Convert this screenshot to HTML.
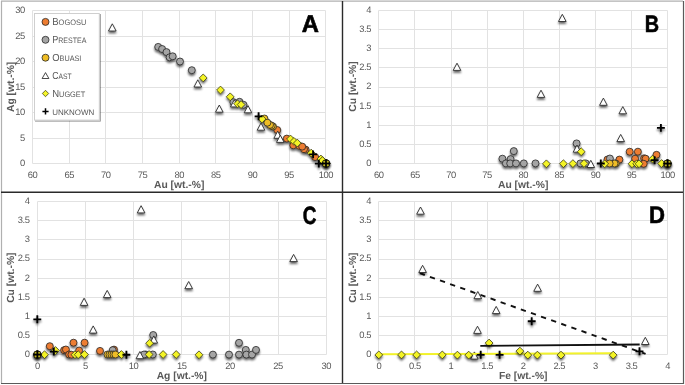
<!DOCTYPE html><html><head><meta charset="utf-8"><style>
html,body{margin:0;padding:0;background:#fff;}
svg{display:block;will-change:transform;}
text{font-family:"Liberation Sans",sans-serif;text-rendering:geometricPrecision;}
.t{font-size:9.4px;fill:#595959;letter-spacing:-0.45px;}
.ti{font-size:10.3px;font-weight:bold;fill:#595959;}
.L{font-size:24px;font-weight:bold;fill:#000;stroke:#000;stroke-width:0.6px;}
.lg{fill:#595959;}
</style></head><body>
<svg width="685" height="385" viewBox="0 0 685 385">
<defs>
<filter id="sh" x="-50%" y="-50%" width="200%" height="200%">
<feGaussianBlur in="SourceAlpha" stdDeviation="1.0"/>
<feOffset dx="0.3" dy="2.2" result="b"/>
<feComponentTransfer><feFuncA type="linear" slope="0.6"/></feComponentTransfer>
<feMerge><feMergeNode/><feMergeNode in="SourceGraphic"/></feMerge>
</filter>
<filter id="lsh" x="-20%" y="-20%" width="140%" height="140%">
<feGaussianBlur in="SourceAlpha" stdDeviation="0.6"/>
<feOffset dx="0.9" dy="0.9" result="b"/>
<feComponentTransfer><feFuncA type="linear" slope="0.4"/></feComponentTransfer>
<feMerge><feMergeNode/><feMergeNode in="SourceGraphic"/></feMerge>
</filter>
</defs>
<rect width="685" height="385" fill="#fff"/>

<path d="M32.5 10.5V163.5M69.5 10.5V163.5M105.5 10.5V163.5M142.5 10.5V163.5M179.5 10.5V163.5M215.5 10.5V163.5M252.5 10.5V163.5M289.5 10.5V163.5M325.5 10.5V163.5M32.5 163.5H325.5M32.5 138.5H325.5M32.5 112.5H325.5M32.5 87.5H325.5M32.5 61.5H325.5M32.5 36.5H325.5M32.5 10.5H325.5" stroke="#e2e2e2" stroke-width="1" fill="none"/>
<text x="32.5" y="178.1" class="t" text-anchor="middle">60</text>
<text x="69.2" y="178.1" class="t" text-anchor="middle">65</text>
<text x="105.8" y="178.1" class="t" text-anchor="middle">70</text>
<text x="142.5" y="178.1" class="t" text-anchor="middle">75</text>
<text x="179.2" y="178.1" class="t" text-anchor="middle">80</text>
<text x="215.8" y="178.1" class="t" text-anchor="middle">85</text>
<text x="252.5" y="178.1" class="t" text-anchor="middle">90</text>
<text x="289.1" y="178.1" class="t" text-anchor="middle">95</text>
<text x="325.8" y="178.1" class="t" text-anchor="middle">100</text>
<text x="24.7" y="166.3" class="t" text-anchor="end">0</text>
<text x="24.7" y="140.8" class="t" text-anchor="end">5</text>
<text x="24.7" y="115.3" class="t" text-anchor="end">10</text>
<text x="24.7" y="89.8" class="t" text-anchor="end">15</text>
<text x="24.7" y="64.3" class="t" text-anchor="end">20</text>
<text x="24.7" y="38.8" class="t" text-anchor="end">25</text>
<text x="24.7" y="13.3" class="t" text-anchor="end">30</text>
<text x="179.2" y="187.8" class="ti" text-anchor="middle">Au [wt.-%]</text>
<text transform="translate(14.0 86.9) rotate(-90)" class="ti" text-anchor="middle">Ag [wt.-%]</text>
<path d="M378.5 10.5V163.5M414.5 10.5V163.5M451.5 10.5V163.5M487.5 10.5V163.5M523.5 10.5V163.5M559.5 10.5V163.5M595.5 10.5V163.5M631.5 10.5V163.5M667.5 10.5V163.5M378.5 163.5H667.5M378.5 144.5H667.5M378.5 125.5H667.5M378.5 106.5H667.5M378.5 87.5H667.5M378.5 67.5H667.5M378.5 48.5H667.5M378.5 29.5H667.5M378.5 10.5H667.5" stroke="#e2e2e2" stroke-width="1" fill="none"/>
<text x="378.8" y="178.1" class="t" text-anchor="middle">60</text>
<text x="414.9" y="178.1" class="t" text-anchor="middle">65</text>
<text x="451.0" y="178.1" class="t" text-anchor="middle">70</text>
<text x="487.1" y="178.1" class="t" text-anchor="middle">75</text>
<text x="523.2" y="178.1" class="t" text-anchor="middle">80</text>
<text x="559.3" y="178.1" class="t" text-anchor="middle">85</text>
<text x="595.4" y="178.1" class="t" text-anchor="middle">90</text>
<text x="631.5" y="178.1" class="t" text-anchor="middle">95</text>
<text x="667.6" y="178.1" class="t" text-anchor="middle">100</text>
<text x="371.0" y="165.9" class="t" text-anchor="end">0</text>
<text x="371.0" y="146.8" class="t" text-anchor="end">0.5</text>
<text x="371.0" y="127.7" class="t" text-anchor="end">1</text>
<text x="371.0" y="108.5" class="t" text-anchor="end">1.5</text>
<text x="371.0" y="89.4" class="t" text-anchor="end">2</text>
<text x="371.0" y="70.3" class="t" text-anchor="end">2.5</text>
<text x="371.0" y="51.1" class="t" text-anchor="end">3</text>
<text x="371.0" y="32.0" class="t" text-anchor="end">3.5</text>
<text x="371.0" y="12.9" class="t" text-anchor="end">4</text>
<text x="523.2" y="187.8" class="ti" text-anchor="middle">Au [wt.-%]</text>
<text transform="translate(356.0 86.5) rotate(-90)" class="ti" text-anchor="middle">Cu [wt.-%]</text>
<path d="M37.5 201.5V354.5M85.5 201.5V354.5M133.5 201.5V354.5M181.5 201.5V354.5M229.5 201.5V354.5M278.5 201.5V354.5M326.5 201.5V354.5M37.5 354.5H326.5M37.5 335.5H326.5M37.5 316.5H326.5M37.5 297.5H326.5M37.5 278.5H326.5M37.5 259.5H326.5M37.5 239.5H326.5M37.5 220.5H326.5M37.5 201.5H326.5" stroke="#e2e2e2" stroke-width="1" fill="none"/>
<text x="37.3" y="369.2" class="t" text-anchor="middle">0</text>
<text x="85.5" y="369.2" class="t" text-anchor="middle">5</text>
<text x="133.6" y="369.2" class="t" text-anchor="middle">10</text>
<text x="181.8" y="369.2" class="t" text-anchor="middle">15</text>
<text x="230.0" y="369.2" class="t" text-anchor="middle">20</text>
<text x="278.1" y="369.2" class="t" text-anchor="middle">25</text>
<text x="326.3" y="369.2" class="t" text-anchor="middle">30</text>
<text x="29.5" y="357.3" class="t" text-anchor="end">0</text>
<text x="29.5" y="338.1" class="t" text-anchor="end">0.5</text>
<text x="29.5" y="318.9" class="t" text-anchor="end">1</text>
<text x="29.5" y="299.8" class="t" text-anchor="end">1.5</text>
<text x="29.5" y="280.6" class="t" text-anchor="end">2</text>
<text x="29.5" y="261.4" class="t" text-anchor="end">2.5</text>
<text x="29.5" y="242.2" class="t" text-anchor="end">3</text>
<text x="29.5" y="223.1" class="t" text-anchor="end">3.5</text>
<text x="29.5" y="203.9" class="t" text-anchor="end">4</text>
<text x="181.8" y="378.9" class="ti" text-anchor="middle">Ag [wt.-%]</text>
<text transform="translate(14.0 277.7) rotate(-90)" class="ti" text-anchor="middle">Cu [wt.-%]</text>
<path d="M378.5 201.5V354.5M414.5 201.5V354.5M451.5 201.5V354.5M487.5 201.5V354.5M523.5 201.5V354.5M559.5 201.5V354.5M595.5 201.5V354.5M631.5 201.5V354.5M667.5 201.5V354.5M378.5 354.5H667.5M378.5 335.5H667.5M378.5 316.5H667.5M378.5 297.5H667.5M378.5 278.5H667.5M378.5 259.5H667.5M378.5 239.5H667.5M378.5 220.5H667.5M378.5 201.5H667.5" stroke="#e2e2e2" stroke-width="1" fill="none"/>
<text x="378.8" y="369.3" class="t" text-anchor="middle">0</text>
<text x="414.9" y="369.3" class="t" text-anchor="middle">0.5</text>
<text x="451.0" y="369.3" class="t" text-anchor="middle">1</text>
<text x="487.1" y="369.3" class="t" text-anchor="middle">1.5</text>
<text x="523.2" y="369.3" class="t" text-anchor="middle">2</text>
<text x="559.3" y="369.3" class="t" text-anchor="middle">2.5</text>
<text x="595.4" y="369.3" class="t" text-anchor="middle">3</text>
<text x="631.5" y="369.3" class="t" text-anchor="middle">3.5</text>
<text x="667.6" y="369.3" class="t" text-anchor="middle">4</text>
<text x="371.0" y="357.3" class="t" text-anchor="end">0</text>
<text x="371.0" y="338.1" class="t" text-anchor="end">0.5</text>
<text x="371.0" y="318.9" class="t" text-anchor="end">1</text>
<text x="371.0" y="299.8" class="t" text-anchor="end">1.5</text>
<text x="371.0" y="280.6" class="t" text-anchor="end">2</text>
<text x="371.0" y="261.4" class="t" text-anchor="end">2.5</text>
<text x="371.0" y="242.2" class="t" text-anchor="end">3</text>
<text x="371.0" y="223.1" class="t" text-anchor="end">3.5</text>
<text x="371.0" y="203.9" class="t" text-anchor="end">4</text>
<text x="523.2" y="379.0" class="ti" text-anchor="middle">Fe [wt.-%]</text>
<text transform="translate(356.0 277.7) rotate(-90)" class="ti" text-anchor="middle">Cu [wt.-%]</text>
<g filter="url(#sh)">
<circle cx="277.3" cy="130" r="3.5" fill="#ED7D31" stroke="#262626" stroke-width="0.8"/>
<circle cx="286.8" cy="138.6" r="3.5" fill="#ED7D31" stroke="#262626" stroke-width="0.8"/>
<circle cx="293.3" cy="145.3" r="3.5" fill="#ED7D31" stroke="#262626" stroke-width="0.8"/>
<circle cx="299.3" cy="145.9" r="3.5" fill="#ED7D31" stroke="#262626" stroke-width="0.8"/>
<circle cx="305.6" cy="149.6" r="3.5" fill="#ED7D31" stroke="#262626" stroke-width="0.8"/>
<circle cx="304" cy="149.2" r="3.5" fill="#ED7D31" stroke="#262626" stroke-width="0.8"/>
<circle cx="302.2" cy="146.6" r="3.5" fill="#ED7D31" stroke="#262626" stroke-width="0.8"/>
<circle cx="315.1" cy="157" r="3.5" fill="#ED7D31" stroke="#262626" stroke-width="0.8"/>
<circle cx="158.2" cy="46.9" r="3.5" fill="#A5A5A5" stroke="#262626" stroke-width="0.8"/>
<circle cx="162.1" cy="49" r="3.5" fill="#A5A5A5" stroke="#262626" stroke-width="0.8"/>
<circle cx="166.5" cy="52.1" r="3.5" fill="#A5A5A5" stroke="#262626" stroke-width="0.8"/>
<circle cx="169.6" cy="57.3" r="3.5" fill="#A5A5A5" stroke="#262626" stroke-width="0.8"/>
<circle cx="172.7" cy="56.3" r="3.5" fill="#A5A5A5" stroke="#262626" stroke-width="0.8"/>
<circle cx="180" cy="61.5" r="3.5" fill="#A5A5A5" stroke="#262626" stroke-width="0.8"/>
<circle cx="191.8" cy="70.2" r="3.5" fill="#A5A5A5" stroke="#262626" stroke-width="0.8"/>
<circle cx="233.4" cy="102.2" r="3.5" fill="#A5A5A5" stroke="#262626" stroke-width="0.8"/>
<circle cx="239.5" cy="101.8" r="3.5" fill="#A5A5A5" stroke="#262626" stroke-width="0.8"/>
<circle cx="243.5" cy="104.8" r="3.5" fill="#A5A5A5" stroke="#262626" stroke-width="0.8"/>
<path d="M112.3 23.80L116.10 31.00H108.50Z" fill="#fff" stroke="#2a2a2a" stroke-width="0.9" stroke-linejoin="miter"/>
<path d="M197.8 79.80L201.60 87.00H194.00Z" fill="#fff" stroke="#2a2a2a" stroke-width="0.9" stroke-linejoin="miter"/>
<path d="M219.3 105.00L223.10 112.20H215.50Z" fill="#fff" stroke="#2a2a2a" stroke-width="0.9" stroke-linejoin="miter"/>
<path d="M234.3 99.70L238.10 106.90H230.50Z" fill="#fff" stroke="#2a2a2a" stroke-width="0.9" stroke-linejoin="miter"/>
<path d="M248 105.60L251.80 112.80H244.20Z" fill="#fff" stroke="#2a2a2a" stroke-width="0.9" stroke-linejoin="miter"/>
<path d="M261 123.00L264.80 130.20H257.20Z" fill="#fff" stroke="#2a2a2a" stroke-width="0.9" stroke-linejoin="miter"/>
<path d="M277.7 131.10L281.50 138.30H273.90Z" fill="#fff" stroke="#2a2a2a" stroke-width="0.9" stroke-linejoin="miter"/>
<path d="M280.3 135.20L284.10 142.40H276.50Z" fill="#fff" stroke="#2a2a2a" stroke-width="0.9" stroke-linejoin="miter"/>
<circle cx="264.4" cy="118.5" r="3.5" fill="#EFBD25" stroke="#262626" stroke-width="0.8"/>
<circle cx="273" cy="126.5" r="3.5" fill="#EFBD25" stroke="#262626" stroke-width="0.8"/>
<circle cx="271.7" cy="125.7" r="3.5" fill="#EFBD25" stroke="#262626" stroke-width="0.8"/>
<circle cx="270" cy="124.9" r="3.5" fill="#EFBD25" stroke="#262626" stroke-width="0.8"/>
<circle cx="267.4" cy="122.7" r="3.5" fill="#EFBD25" stroke="#262626" stroke-width="0.8"/>
<circle cx="326.1" cy="163.2" r="3.5" fill="#EFBD25" stroke="#262626" stroke-width="0.8"/>
<path d="M203.2 74.00L207.10 77.9L203.2 81.80L199.30 77.9Z" fill="#F4F428" stroke="#2f2f10" stroke-width="0.75"/>
<path d="M220.5 86.10L224.40 90L220.5 93.90L216.60 90Z" fill="#F4F428" stroke="#2f2f10" stroke-width="0.75"/>
<path d="M230.2 92.90L234.10 96.8L230.2 100.70L226.30 96.8Z" fill="#F4F428" stroke="#2f2f10" stroke-width="0.75"/>
<path d="M237.5 99.90L241.40 103.8L237.5 107.70L233.60 103.8Z" fill="#F4F428" stroke="#2f2f10" stroke-width="0.75"/>
<path d="M241.1 100.70L245.00 104.6L241.1 108.50L237.20 104.6Z" fill="#F4F428" stroke="#2f2f10" stroke-width="0.75"/>
<path d="M262 115.10L265.90 119L262 122.90L258.10 119Z" fill="#F4F428" stroke="#2f2f10" stroke-width="0.75"/>
<path d="M290.5 135.10L294.40 139L290.5 142.90L286.60 139Z" fill="#F4F428" stroke="#2f2f10" stroke-width="0.75"/>
<path d="M294 137.50L297.90 141.4L294 145.30L290.10 141.4Z" fill="#F4F428" stroke="#2f2f10" stroke-width="0.75"/>
<path d="M297.3 139.20L301.20 143.1L297.3 147.00L293.40 143.1Z" fill="#F4F428" stroke="#2f2f10" stroke-width="0.75"/>
<path d="M311.2 149.20L315.10 153.1L311.2 157.00L307.30 153.1Z" fill="#F4F428" stroke="#2f2f10" stroke-width="0.75"/>
<path d="M320.9 155.10L324.80 159L320.9 162.90L317.00 159Z" fill="#F4F428" stroke="#2f2f10" stroke-width="0.75"/>
<path d="M322.5 156.70L326.40 160.6L322.5 164.50L318.60 160.6Z" fill="#F4F428" stroke="#2f2f10" stroke-width="0.75"/>
<path d="M326.5 159.60L330.40 163.5L326.5 167.40L322.60 163.5Z" fill="#F4F428" stroke="#2f2f10" stroke-width="0.75"/>
<path d="M254.65 116.3H262.55M258.6 112.35V120.25" stroke="#000" stroke-width="1.85" fill="none"/>
<path d="M309.15 154.4H317.05M313.1 150.45V158.35" stroke="#000" stroke-width="1.85" fill="none"/>
<path d="M314.85 163.6H322.75M318.8 159.65V167.55" stroke="#000" stroke-width="1.85" fill="none"/>
<path d="M322.35 163.3H330.25M326.3 159.35V167.25" stroke="#000" stroke-width="1.85" fill="none"/>
</g>
<g filter="url(#sh)">
<circle cx="607.5" cy="159.5" r="3.5" fill="#ED7D31" stroke="#262626" stroke-width="0.8"/>
<circle cx="619.4" cy="159.6" r="3.5" fill="#ED7D31" stroke="#262626" stroke-width="0.8"/>
<circle cx="629.7" cy="151.7" r="3.5" fill="#ED7D31" stroke="#262626" stroke-width="0.8"/>
<circle cx="637.9" cy="151.7" r="3.5" fill="#ED7D31" stroke="#262626" stroke-width="0.8"/>
<circle cx="635.1" cy="158.7" r="3.5" fill="#ED7D31" stroke="#262626" stroke-width="0.8"/>
<circle cx="644.1" cy="158.3" r="3.5" fill="#ED7D31" stroke="#262626" stroke-width="0.8"/>
<circle cx="645.6" cy="158.7" r="3.5" fill="#ED7D31" stroke="#262626" stroke-width="0.8"/>
<circle cx="643.7" cy="163.8" r="3.5" fill="#ED7D31" stroke="#262626" stroke-width="0.8"/>
<circle cx="656.5" cy="154.8" r="3.5" fill="#ED7D31" stroke="#262626" stroke-width="0.8"/>
<circle cx="513.8" cy="151.1" r="3.5" fill="#A5A5A5" stroke="#262626" stroke-width="0.8"/>
<circle cx="502.4" cy="158.7" r="3.5" fill="#A5A5A5" stroke="#262626" stroke-width="0.8"/>
<circle cx="510.6" cy="159.1" r="3.5" fill="#A5A5A5" stroke="#262626" stroke-width="0.8"/>
<circle cx="505.9" cy="163.4" r="3.5" fill="#A5A5A5" stroke="#262626" stroke-width="0.8"/>
<circle cx="510.2" cy="163.4" r="3.5" fill="#A5A5A5" stroke="#262626" stroke-width="0.8"/>
<circle cx="516" cy="163.4" r="3.5" fill="#A5A5A5" stroke="#262626" stroke-width="0.8"/>
<circle cx="523.8" cy="163.4" r="3.5" fill="#A5A5A5" stroke="#262626" stroke-width="0.8"/>
<circle cx="535.5" cy="163.4" r="3.5" fill="#A5A5A5" stroke="#262626" stroke-width="0.8"/>
<circle cx="576.6" cy="143.4" r="3.5" fill="#A5A5A5" stroke="#262626" stroke-width="0.8"/>
<circle cx="580.4" cy="163.4" r="3.5" fill="#A5A5A5" stroke="#262626" stroke-width="0.8"/>
<circle cx="585.8" cy="163.4" r="3.5" fill="#A5A5A5" stroke="#262626" stroke-width="0.8"/>
<circle cx="609.9" cy="158.5" r="3.5" fill="#A5A5A5" stroke="#262626" stroke-width="0.8"/>
<path d="M457 63.20L460.80 70.40H453.20Z" fill="#fff" stroke="#2a2a2a" stroke-width="0.9" stroke-linejoin="miter"/>
<path d="M541 90.20L544.80 97.40H537.20Z" fill="#fff" stroke="#2a2a2a" stroke-width="0.9" stroke-linejoin="miter"/>
<path d="M562.3 14.30L566.10 21.50H558.50Z" fill="#fff" stroke="#2a2a2a" stroke-width="0.9" stroke-linejoin="miter"/>
<path d="M603.4 98.10L607.20 105.30H599.60Z" fill="#fff" stroke="#2a2a2a" stroke-width="0.9" stroke-linejoin="miter"/>
<path d="M622.8 106.60L626.60 113.80H619.00Z" fill="#fff" stroke="#2a2a2a" stroke-width="0.9" stroke-linejoin="miter"/>
<path d="M620.7 134.40L624.50 141.60H616.90Z" fill="#fff" stroke="#2a2a2a" stroke-width="0.9" stroke-linejoin="miter"/>
<path d="M577 145.00L580.80 152.20H573.20Z" fill="#fff" stroke="#2a2a2a" stroke-width="0.9" stroke-linejoin="miter"/>
<path d="M590.8 160.30L594.60 167.50H587.00Z" fill="#fff" stroke="#2a2a2a" stroke-width="0.9" stroke-linejoin="miter"/>
<circle cx="615.8" cy="163.5" r="3.5" fill="#EFBD25" stroke="#262626" stroke-width="0.8"/>
<circle cx="614.5" cy="163.5" r="3.5" fill="#EFBD25" stroke="#262626" stroke-width="0.8"/>
<circle cx="609.6" cy="163.5" r="3.5" fill="#EFBD25" stroke="#262626" stroke-width="0.8"/>
<circle cx="667.3" cy="163.5" r="3.5" fill="#EFBD25" stroke="#262626" stroke-width="0.8"/>
<path d="M546.4 159.90L550.30 163.8L546.4 167.70L542.50 163.8Z" fill="#F4F428" stroke="#2f2f10" stroke-width="0.75"/>
<path d="M563.4 159.80L567.30 163.7L563.4 167.60L559.50 163.7Z" fill="#F4F428" stroke="#2f2f10" stroke-width="0.75"/>
<path d="M572.9 159.70L576.80 163.6L572.9 167.50L569.00 163.6Z" fill="#F4F428" stroke="#2f2f10" stroke-width="0.75"/>
<path d="M584 159.60L587.90 163.5L584 167.40L580.10 163.5Z" fill="#F4F428" stroke="#2f2f10" stroke-width="0.75"/>
<path d="M581.2 147.80L585.10 151.7L581.2 155.60L577.30 151.7Z" fill="#F4F428" stroke="#2f2f10" stroke-width="0.75"/>
<path d="M604.7 159.90L608.60 163.8L604.7 167.70L600.80 163.8Z" fill="#F4F428" stroke="#2f2f10" stroke-width="0.75"/>
<path d="M632 159.90L635.90 163.8L632 167.70L628.10 163.8Z" fill="#F4F428" stroke="#2f2f10" stroke-width="0.75"/>
<path d="M636.7 159.90L640.60 163.8L636.7 167.70L632.80 163.8Z" fill="#F4F428" stroke="#2f2f10" stroke-width="0.75"/>
<path d="M639 159.90L642.90 163.8L639 167.70L635.10 163.8Z" fill="#F4F428" stroke="#2f2f10" stroke-width="0.75"/>
<path d="M652.6 155.20L656.50 159.1L652.6 163.00L648.70 159.1Z" fill="#F4F428" stroke="#2f2f10" stroke-width="0.75"/>
<path d="M661.6 159.60L665.50 163.5L661.6 167.40L657.70 163.5Z" fill="#F4F428" stroke="#2f2f10" stroke-width="0.75"/>
<path d="M667.5 159.70L671.40 163.6L667.5 167.50L663.60 163.6Z" fill="#F4F428" stroke="#2f2f10" stroke-width="0.75"/>
<path d="M596.85 163.5H604.75M600.8 159.55V167.45" stroke="#000" stroke-width="1.85" fill="none"/>
<path d="M650.65 160.2H658.55M654.6 156.25V164.15" stroke="#000" stroke-width="1.85" fill="none"/>
<path d="M656.95 127.9H664.85M660.9 123.95V131.85" stroke="#000" stroke-width="1.85" fill="none"/>
<path d="M663.45 163.4H671.35M667.4 159.45V167.35" stroke="#000" stroke-width="1.85" fill="none"/>
</g>
<g filter="url(#sh)">
<circle cx="49.8" cy="346.2" r="3.5" fill="#ED7D31" stroke="#262626" stroke-width="0.8"/>
<circle cx="64.1" cy="350.2" r="3.5" fill="#ED7D31" stroke="#262626" stroke-width="0.8"/>
<circle cx="65.9" cy="349.5" r="3.5" fill="#ED7D31" stroke="#262626" stroke-width="0.8"/>
<circle cx="69.1" cy="354.5" r="3.5" fill="#ED7D31" stroke="#262626" stroke-width="0.8"/>
<circle cx="71.4" cy="354.7" r="3.5" fill="#ED7D31" stroke="#262626" stroke-width="0.8"/>
<circle cx="73.5" cy="342.7" r="3.5" fill="#ED7D31" stroke="#262626" stroke-width="0.8"/>
<circle cx="84.6" cy="342.7" r="3.5" fill="#ED7D31" stroke="#262626" stroke-width="0.8"/>
<circle cx="79.1" cy="350.5" r="3.5" fill="#ED7D31" stroke="#262626" stroke-width="0.8"/>
<circle cx="100" cy="350.9" r="3.5" fill="#ED7D31" stroke="#262626" stroke-width="0.8"/>
<circle cx="114" cy="349.6" r="3.5" fill="#ED7D31" stroke="#262626" stroke-width="0.8"/>
<circle cx="112.7" cy="350.2" r="3.5" fill="#A5A5A5" stroke="#262626" stroke-width="0.8"/>
<circle cx="153.2" cy="335" r="3.5" fill="#A5A5A5" stroke="#262626" stroke-width="0.8"/>
<circle cx="145.8" cy="354.5" r="3.5" fill="#A5A5A5" stroke="#262626" stroke-width="0.8"/>
<circle cx="152.8" cy="354.5" r="3.5" fill="#A5A5A5" stroke="#262626" stroke-width="0.8"/>
<circle cx="212.9" cy="354.6" r="3.5" fill="#A5A5A5" stroke="#262626" stroke-width="0.8"/>
<circle cx="229" cy="354.6" r="3.5" fill="#A5A5A5" stroke="#262626" stroke-width="0.8"/>
<circle cx="239" cy="342.8" r="3.5" fill="#A5A5A5" stroke="#262626" stroke-width="0.8"/>
<circle cx="239" cy="354.6" r="3.5" fill="#A5A5A5" stroke="#262626" stroke-width="0.8"/>
<circle cx="245.8" cy="349.9" r="3.5" fill="#A5A5A5" stroke="#262626" stroke-width="0.8"/>
<circle cx="246.4" cy="354.6" r="3.5" fill="#A5A5A5" stroke="#262626" stroke-width="0.8"/>
<circle cx="252" cy="354.6" r="3.5" fill="#A5A5A5" stroke="#262626" stroke-width="0.8"/>
<circle cx="256" cy="349.9" r="3.5" fill="#A5A5A5" stroke="#262626" stroke-width="0.8"/>
<circle cx="144" cy="354.5" r="3.5" fill="#A5A5A5" stroke="#262626" stroke-width="0.8"/>
<path d="M141.1 205.70L144.90 212.90H137.30Z" fill="#fff" stroke="#2a2a2a" stroke-width="0.9" stroke-linejoin="miter"/>
<path d="M84.1 298.20L87.90 305.40H80.30Z" fill="#fff" stroke="#2a2a2a" stroke-width="0.9" stroke-linejoin="miter"/>
<path d="M107.2 290.40L111.00 297.60H103.40Z" fill="#fff" stroke="#2a2a2a" stroke-width="0.9" stroke-linejoin="miter"/>
<path d="M93.2 325.90L97.00 333.10H89.40Z" fill="#fff" stroke="#2a2a2a" stroke-width="0.9" stroke-linejoin="miter"/>
<path d="M188.7 281.50L192.50 288.70H184.90Z" fill="#fff" stroke="#2a2a2a" stroke-width="0.9" stroke-linejoin="miter"/>
<path d="M293.6 254.40L297.40 261.60H289.80Z" fill="#fff" stroke="#2a2a2a" stroke-width="0.9" stroke-linejoin="miter"/>
<path d="M139.9 351.50L143.70 358.70H136.10Z" fill="#fff" stroke="#2a2a2a" stroke-width="0.9" stroke-linejoin="miter"/>
<path d="M153.8 335.90L157.60 343.10H150.00Z" fill="#fff" stroke="#2a2a2a" stroke-width="0.9" stroke-linejoin="miter"/>
<circle cx="37.3" cy="354.5" r="3.5" fill="#EFBD25" stroke="#262626" stroke-width="0.8"/>
<circle cx="107.5" cy="354.5" r="3.5" fill="#EFBD25" stroke="#262626" stroke-width="0.8"/>
<circle cx="109.5" cy="354.5" r="3.5" fill="#EFBD25" stroke="#262626" stroke-width="0.8"/>
<circle cx="111.5" cy="354.5" r="3.5" fill="#EFBD25" stroke="#262626" stroke-width="0.8"/>
<circle cx="113.5" cy="354.5" r="3.5" fill="#EFBD25" stroke="#262626" stroke-width="0.8"/>
<circle cx="115.4" cy="354.5" r="3.5" fill="#EFBD25" stroke="#262626" stroke-width="0.8"/>
<path d="M44.5 350.80L48.40 354.7L44.5 358.60L40.60 354.7Z" fill="#F4F428" stroke="#2f2f10" stroke-width="0.75"/>
<path d="M55.5 346.60L59.40 350.5L55.5 354.40L51.60 350.5Z" fill="#F4F428" stroke="#2f2f10" stroke-width="0.75"/>
<path d="M75 350.80L78.90 354.7L75 358.60L71.10 354.7Z" fill="#F4F428" stroke="#2f2f10" stroke-width="0.75"/>
<path d="M78.2 350.80L82.10 354.7L78.2 358.60L74.30 354.7Z" fill="#F4F428" stroke="#2f2f10" stroke-width="0.75"/>
<path d="M84.5 350.60L88.40 354.5L84.5 358.40L80.60 354.5Z" fill="#F4F428" stroke="#2f2f10" stroke-width="0.75"/>
<path d="M121.4 350.60L125.30 354.5L121.4 358.40L117.50 354.5Z" fill="#F4F428" stroke="#2f2f10" stroke-width="0.75"/>
<path d="M149.6 339.30L153.50 343.2L149.6 347.10L145.70 343.2Z" fill="#F4F428" stroke="#2f2f10" stroke-width="0.75"/>
<path d="M149.1 350.60L153.00 354.5L149.1 358.40L145.20 354.5Z" fill="#F4F428" stroke="#2f2f10" stroke-width="0.75"/>
<path d="M163.1 350.60L167.00 354.5L163.1 358.40L159.20 354.5Z" fill="#F4F428" stroke="#2f2f10" stroke-width="0.75"/>
<path d="M176.2 350.60L180.10 354.5L176.2 358.40L172.30 354.5Z" fill="#F4F428" stroke="#2f2f10" stroke-width="0.75"/>
<path d="M199 350.90L202.90 354.8L199 358.70L195.10 354.8Z" fill="#F4F428" stroke="#2f2f10" stroke-width="0.75"/>
<path d="M37.3 350.60L41.20 354.5L37.3 358.40L33.40 354.5Z" fill="#F4F428" stroke="#2f2f10" stroke-width="0.75"/>
<path d="M33.35 319.3H41.25M37.3 315.35V323.25" stroke="#000" stroke-width="1.85" fill="none"/>
<path d="M49.85 351.6H57.75M53.8 347.65V355.55" stroke="#000" stroke-width="1.85" fill="none"/>
<path d="M122.45 354.7H130.35M126.4 350.75V358.65" stroke="#000" stroke-width="1.85" fill="none"/>
<path d="M33.35 354.5H41.25M37.3 350.55V358.45" stroke="#000" stroke-width="1.85" fill="none"/>
</g>
<g filter="url(#sh)">
<circle cx="326.0" cy="163.5" r="3.8" fill="#2a2600" stroke="#111" stroke-width="0.8"/>
<circle cx="324.30" cy="161.80" r="1.15" fill="#b8b020"/>
<circle cx="327.70" cy="161.80" r="1.15" fill="#b8b020"/>
<circle cx="324.30" cy="165.20" r="1.15" fill="#b8b020"/>
<circle cx="327.70" cy="165.20" r="1.15" fill="#b8b020"/>
<path d="M322.10 163.5H329.90M326.0 159.60V167.40" stroke="#000" stroke-width="1.5" fill="none"/>
</g>
<g filter="url(#sh)">
<circle cx="667.6" cy="163.6" r="3.8" fill="#2a2600" stroke="#111" stroke-width="0.8"/>
<circle cx="665.90" cy="161.90" r="1.15" fill="#b8b020"/>
<circle cx="669.30" cy="161.90" r="1.15" fill="#b8b020"/>
<circle cx="665.90" cy="165.30" r="1.15" fill="#b8b020"/>
<circle cx="669.30" cy="165.30" r="1.15" fill="#b8b020"/>
<path d="M663.70 163.6H671.50M667.6 159.70V167.50" stroke="#000" stroke-width="1.5" fill="none"/>
</g>
<g filter="url(#sh)">
<circle cx="37.4" cy="354.6" r="3.8" fill="#2a2600" stroke="#111" stroke-width="0.8"/>
<circle cx="35.70" cy="352.90" r="1.15" fill="#b8b020"/>
<circle cx="39.10" cy="352.90" r="1.15" fill="#b8b020"/>
<circle cx="35.70" cy="356.30" r="1.15" fill="#b8b020"/>
<circle cx="39.10" cy="356.30" r="1.15" fill="#b8b020"/>
<path d="M33.50 354.6H41.30M37.4 350.70V358.50" stroke="#000" stroke-width="1.5" fill="none"/>
</g>
<path d="M419.8 273.2L645.6 353.9" stroke="#111" stroke-width="1.9" stroke-dasharray="5.3 5.43" fill="none"/>
<g filter="url(#sh)">
<path d="M420.5 207.00L424.30 214.20H416.70Z" fill="#fff" stroke="#2a2a2a" stroke-width="0.9" stroke-linejoin="miter"/>
<path d="M422.6 265.30L426.40 272.50H418.80Z" fill="#fff" stroke="#2a2a2a" stroke-width="0.9" stroke-linejoin="miter"/>
<path d="M477.8 291.50L481.60 298.70H474.00Z" fill="#fff" stroke="#2a2a2a" stroke-width="0.9" stroke-linejoin="miter"/>
<path d="M496.2 306.40L500.00 313.60H492.40Z" fill="#fff" stroke="#2a2a2a" stroke-width="0.9" stroke-linejoin="miter"/>
<path d="M477.5 326.20L481.30 333.40H473.70Z" fill="#fff" stroke="#2a2a2a" stroke-width="0.9" stroke-linejoin="miter"/>
<path d="M537.6 284.10L541.40 291.30H533.80Z" fill="#fff" stroke="#2a2a2a" stroke-width="0.9" stroke-linejoin="miter"/>
<path d="M645.3 337.30L649.10 344.50H641.50Z" fill="#fff" stroke="#2a2a2a" stroke-width="0.9" stroke-linejoin="miter"/>
<path d="M474.4 351.90L478.20 359.10H470.60Z" fill="#fff" stroke="#2a2a2a" stroke-width="0.9" stroke-linejoin="miter"/>
</g>
<path d="M378.8 354.2L611.7 353.2" stroke="#F2F22A" stroke-width="2" fill="none"/>
<g filter="url(#sh)">
<path d="M378.8 351.00L382.70 354.9L378.8 358.80L374.90 354.9Z" fill="#F4F428" stroke="#2f2f10" stroke-width="0.75"/>
<path d="M401.5 351.00L405.40 354.9L401.5 358.80L397.60 354.9Z" fill="#F4F428" stroke="#2f2f10" stroke-width="0.75"/>
<path d="M416.6 351.00L420.50 354.9L416.6 358.80L412.70 354.9Z" fill="#F4F428" stroke="#2f2f10" stroke-width="0.75"/>
<path d="M442.3 351.00L446.20 354.9L442.3 358.80L438.40 354.9Z" fill="#F4F428" stroke="#2f2f10" stroke-width="0.75"/>
<path d="M457.4 351.20L461.30 355.1L457.4 359.00L453.50 355.1Z" fill="#F4F428" stroke="#2f2f10" stroke-width="0.75"/>
<path d="M468.7 351.20L472.60 355.1L468.7 359.00L464.80 355.1Z" fill="#F4F428" stroke="#2f2f10" stroke-width="0.75"/>
<path d="M489.1 339.10L493.00 343L489.1 346.90L485.20 343Z" fill="#F4F428" stroke="#2f2f10" stroke-width="0.75"/>
<path d="M519.9 347.20L523.80 351.1L519.9 355.00L516.00 351.1Z" fill="#F4F428" stroke="#2f2f10" stroke-width="0.75"/>
<path d="M527.8 351.20L531.70 355.1L527.8 359.00L523.90 355.1Z" fill="#F4F428" stroke="#2f2f10" stroke-width="0.75"/>
<path d="M537.4 351.20L541.30 355.1L537.4 359.00L533.50 355.1Z" fill="#F4F428" stroke="#2f2f10" stroke-width="0.75"/>
<path d="M561 351.20L564.90 355.1L561 359.00L557.10 355.1Z" fill="#F4F428" stroke="#2f2f10" stroke-width="0.75"/>
<path d="M613.2 351.20L617.10 355.1L613.2 359.00L609.30 355.1Z" fill="#F4F428" stroke="#2f2f10" stroke-width="0.75"/>
</g>
<path d="M480.3 345.9L639.7 344.5" stroke="#111" stroke-width="1.9" fill="none"/>
<g filter="url(#sh)">
<path d="M476.75 354.8H484.65M480.7 350.85V358.75" stroke="#000" stroke-width="1.85" fill="none"/>
<path d="M495.65 354.8H503.55M499.6 350.85V358.75" stroke="#000" stroke-width="1.85" fill="none"/>
<path d="M527.75 321.2H535.65M531.7 317.25V325.15" stroke="#000" stroke-width="1.85" fill="none"/>
<path d="M635.55 351.3H643.45M639.5 347.35V355.25" stroke="#000" stroke-width="1.85" fill="none"/>
</g>
<rect x="34.5" y="13.5" width="64.8" height="106.6" fill="#fff" stroke="#cfcfcf" stroke-width="1" filter="url(#lsh)"/>
<circle cx="45.5" cy="21.9" r="3.5" fill="#ED7D31" stroke="#262626" stroke-width="0.8"/>
<circle cx="45.5" cy="39.8" r="3.5" fill="#A5A5A5" stroke="#262626" stroke-width="0.8"/>
<circle cx="45.5" cy="57.699999999999996" r="3.5" fill="#EFBD25" stroke="#262626" stroke-width="0.8"/>
<path d="M45.5 72.60L48.90 78.50H42.10Z" fill="#fff" stroke="#2a2a2a" stroke-width="0.85"/>
<path d="M45.5 90.30L48.70 93.5L45.5 96.70L42.30 93.5Z" fill="#F4F428" stroke="#2f2f10" stroke-width="0.7"/>
<path d="M42.40 111.4H48.60M45.5 108.30V114.50" stroke="#000" stroke-width="1.5" fill="none"/>
<text x="52.2" y="25.4" class="lg" textLength="34.1" lengthAdjust="spacingAndGlyphs"><tspan font-size="10.2">B</tspan><tspan font-size="7.9">OGOSU</tspan></text>
<text x="52.2" y="43.3" class="lg" textLength="34.3" lengthAdjust="spacingAndGlyphs"><tspan font-size="10.2">P</tspan><tspan font-size="7.9">RESTEA</tspan></text>
<text x="52.2" y="61.2" class="lg" textLength="29.2" lengthAdjust="spacingAndGlyphs"><tspan font-size="10.2">O</tspan><tspan font-size="7.9">BUASI</tspan></text>
<text x="52.2" y="79.1" class="lg" textLength="19.4" lengthAdjust="spacingAndGlyphs"><tspan font-size="10.2">C</tspan><tspan font-size="7.9">AST</tspan></text>
<text x="52.2" y="97.0" class="lg" textLength="33.1" lengthAdjust="spacingAndGlyphs"><tspan font-size="10.2">N</tspan><tspan font-size="7.9">UGGET</tspan></text>
<text x="52.2" y="114.9" class="lg" textLength="42.1" lengthAdjust="spacingAndGlyphs"><tspan font-size="10.2"></tspan><tspan font-size="7.9">UNKNOWN</tspan></text>
<text transform="translate(301.79 31.94) scale(0.991 1.005)" class="L">A</text>
<text transform="translate(644.71 31.60) scale(0.827 0.990)" class="L">B</text>
<text transform="translate(302.74 223.75) scale(0.788 1.039)" class="L">C</text>
<text transform="translate(649.05 223.40) scale(0.922 0.996)" class="L">D</text>
<path d="M1.5 1V383" stroke="#b0b0b0" stroke-width="1.2"/>
<path d="M1 1.2H683" stroke="#b0b0b0" stroke-width="1.2"/>
<path d="M683.5 1V384" stroke="#5a5a5a" stroke-width="1.2"/>
<path d="M1 383.5H684" stroke="#5a5a5a" stroke-width="1.2"/>
<path d="M342.5 1V383M1 192.3H683" stroke="#2a2a2a" stroke-width="1.4"/>
</svg></body></html>
